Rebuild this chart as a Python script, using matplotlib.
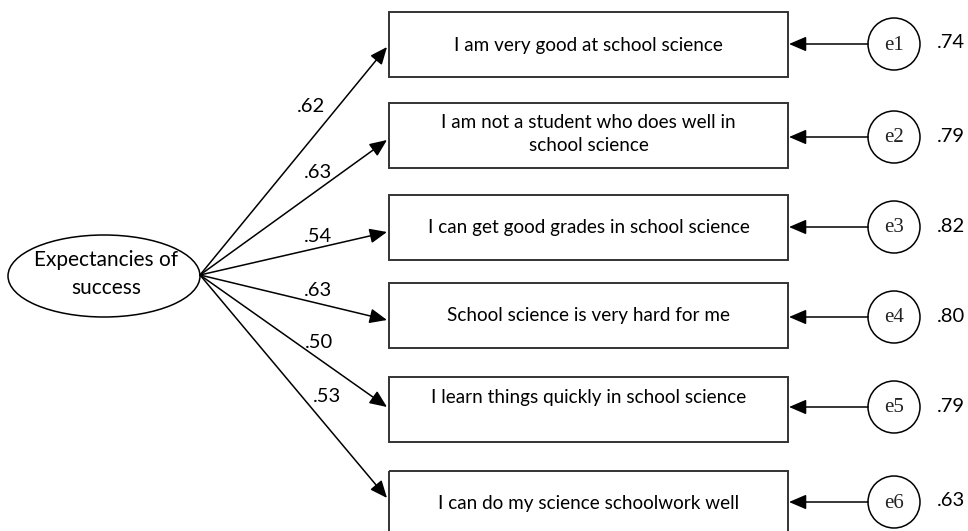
import matplotlib
matplotlib.use("Agg")
import matplotlib.pyplot as plt
from matplotlib.patches import Rectangle, Ellipse, Circle, FancyArrowPatch

# ---- data ----
latent_label = "Expectancies of\nsuccess"
indicators = [
    "I am very good at school science",
    "I am not a student who does well in\nschool science",
    "I can get good grades in school science",
    "School science is very hard for me",
    "I learn things quickly in school science",
    "I can do my science schoolwork well",
]
loadings = [".62", ".63", ".54", ".63", ".50", ".53"]
errors = ["e1", "e2", "e3", "e4", "e5", "e6"]
error_values = [".74", ".79", ".82", ".80", ".79", ".63"]

# ---- layout (pixels, y down) ----
W, H = 968, 531
box_left, box_right = 389, 788
box_tops = [12, 103, 195, 283, 377, 471]
box_h = 65
tip_y = [47, 140, 232, 320, 407, 498]
text_y = [45, 134, 228, 316, 398, 503]
load_pos = [(311, 107), (318, 173), (318, 237), (318, 290), (319, 342), (327, 397)]
circ_x, circ_r = 894, 26
circ_y = [44, 137, 227, 317, 407, 502]
val_x = 951
origin = (200, 275)

fig = plt.figure(figsize=(W / 100, H / 100), dpi=100)
ax = fig.add_axes([0, 0, 1, 1])
ax.set_xlim(0, W)
ax.set_ylim(H, 0)
ax.axis("off")

font = "Lato"
fs = 13.6
lw = 1.1

# latent ellipse
ax.add_patch(Ellipse((104, 276), 192, 82, fill=False, lw=lw, ec="black"))
ax.text(106, 274, latent_label, ha="center", va="center", fontsize=15,
        family=font, linespacing=1.45)

for i in range(len(indicators)):
    top = box_tops[i]
    ax.add_patch(Rectangle((box_left, top), box_right - box_left, box_h,
                           fill=False, lw=1.4, ec="#333333"))
    ax.text((box_left + box_right) / 2, text_y[i], indicators[i],
            ha="center", va="center", fontsize=fs, family=font, linespacing=1.45)
    # loading arrow
    ax.add_patch(FancyArrowPatch(origin, (box_left - 2, tip_y[i]),
                                 arrowstyle="-|>,head_length=0.7,head_width=0.3",
                                 mutation_scale=15, lw=lw, color="black",
                                 shrinkA=0, shrinkB=0))
    ax.text(load_pos[i][0], load_pos[i][1], loadings[i], ha="center",
            va="center", fontsize=14.5, family=font)
    # error circle
    cy = circ_y[i]
    ax.add_patch(Circle((circ_x, cy), circ_r, fill=False, lw=lw, ec="black"))
    ax.text(circ_x, cy + 1, errors[i], ha="center", va="center", fontsize=15,
            family="Liberation Serif", color="#222222")
    ax.add_patch(FancyArrowPatch((circ_x - circ_r, cy), (box_right + 1, cy),
                                 arrowstyle="-|>,head_length=0.7,head_width=0.3",
                                 mutation_scale=15, lw=lw, color="black",
                                 shrinkA=0, shrinkB=0))
    ax.text(val_x, cy - 1, error_values[i], ha="center", va="center",
            fontsize=14.5, family=font)

fig.savefig("out.png", dpi=100, facecolor="white")
